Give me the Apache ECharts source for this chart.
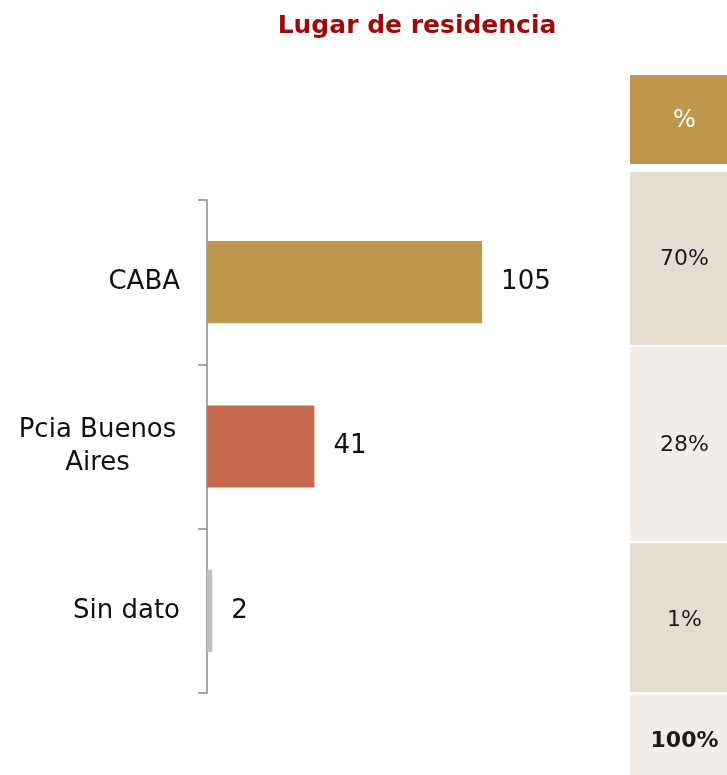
<!DOCTYPE html>
<html>
<head>
<meta charset="utf-8">
<script src="https://cdn.jsdelivr.net/npm/echarts@6/dist/echarts.min.js"></script>
<style>
html, body { margin: 0; padding: 0; background: #fff; }
#residencia { width: 727px; height: 775px; }
</style>
</head>
<body>
<div id="residencia"></div>
<script>
var categories = ['CABA', 'Pcia Buenos\nAires', 'Sin dato'];
var counts = [105, 41, 2];
var barColors = ['#BF974C', '#C5694F', '#BFBFBF'];
var pctHeader = '%';
var pctLabels = ['70%', '28%', '1%'];
var pctTotal = '100%';

var font = 'DejaVu Sans';

// tabla de porcentajes a la derecha
var cellX = 630, cellW = 97;
var rows = [[75, 164], [172, 345], [347, 541], [543, 692], [695, 775]];
var cellColors = ['#BF974C', '#E7DCD0', '#F2EDE8', '#E7DCD0', '#F2EDE8'];
var cellTexts = [pctHeader].concat(pctLabels).concat([pctTotal]);
var graphic = [];
rows.forEach(function (r, i) {
    graphic.push({
        type: 'rect',
        shape: { x: cellX, y: r[0], width: cellW, height: r[1] - r[0] },
        style: { fill: cellColors[i] }
    });
    graphic.push({
        type: 'text',
        x: cellX + cellW / 2 + 6,
        y: (r[0] + r[1]) / 2 + (i == 4 ? 6 : (i == 3 ? 3 : 1)),
        style: {
            text: cellTexts[i],
            fill: i == 0 ? '#fff' : '#1a1a1a',
            font: (i == 4 ? 'bold ' : '') + (i == 0 ? '24px "' : '22px "') + font + '"',
            align: 'center',
            verticalAlign: 'middle'
        }
    });
});

var chart = echarts.init(document.getElementById('residencia'));
var option = {
    backgroundColor: '#fff',
    animation: false,
    title: {
        text: 'Lugar de residencia',
        left: 412,
        top: 9,
        textAlign: 'center',
        textStyle: { color: '#9C0A0A', fontSize: 25, fontWeight: 'bold', fontFamily: font }
    },
    grid: { left: 207, right: 127, top: 200, bottom: 82 },
    xAxis: {
        type: 'value',
        min: 0,
        max: 150,
        show: false
    },
    yAxis: {
        type: 'category',
        inverse: true,
        data: categories,
        axisLine: { lineStyle: { color: '#888', width: 1.5 } },
        axisTick: { show: true, length: 9, lineStyle: { color: '#888', width: 1.5 } },
        axisLabel: {
            margin: 27,
            color: '#111',
            fontSize: 26,
            fontFamily: font,
            lineHeight: 33,
            formatter: function (v) {
                if (v.indexOf('\n') < 0) return v;
                return v.split('\n').map(function (s) { return '{c|' + s + '}'; }).join('\n');
            },
            rich: {
                c: { width: 165, align: 'center', fontSize: 26, fontFamily: font, lineHeight: 33, color: '#111' }
            }
        }
    },
    series: [{
        type: 'bar',
        barWidth: '50%',
        data: counts.map(function (v, i) {
            return { value: v, itemStyle: { color: barColors[i] } };
        }),
        label: {
            show: true,
            position: 'right',
            distance: 19,
            color: '#111',
            fontSize: 26,
            fontFamily: font
        }
    }],
    graphic: graphic
};
chart.setOption(option);
</script>
</body>
</html>
